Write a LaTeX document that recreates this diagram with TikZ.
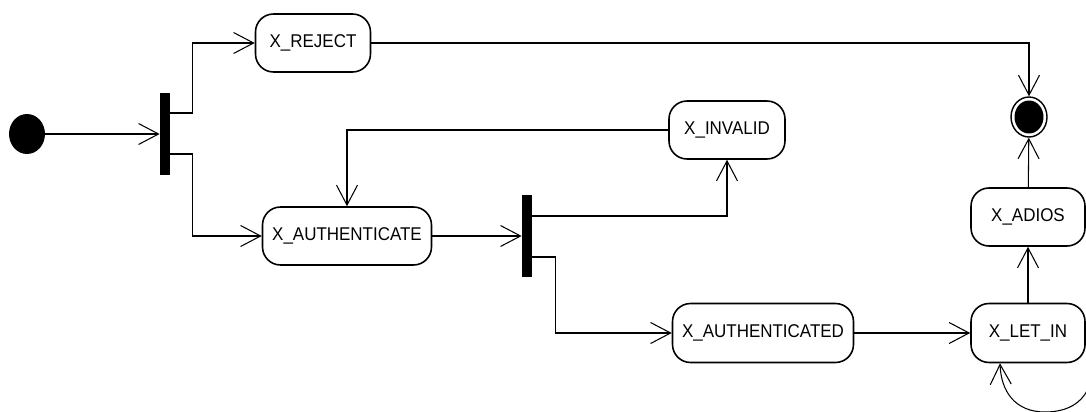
\documentclass[tikz,border=0pt]{standalone}
\usepackage{fontspec}
\setmainfont{Liberation Sans}[FakeStretch=0.92]
\usetikzlibrary{calc,shapes.geometric,arrows.meta}

\begin{document}
\begin{tikzpicture}[x=0.02cm,y=-0.02cm,
		font=\fontsize{10.5}{12}\selectfont,
		state/.style={draw,line width=0.9pt,rounded corners=0.36cm,minimum height=1.16cm,inner sep=0pt},
		bar/.style={fill=black,inner sep=0pt,minimum width=0.2cm,minimum height=1.64cm},
		blob/.style={ellipse,inner sep=0pt,minimum width=0.72cm,minimum height=0.8cm},
		flow/.style={line width=0.6pt,-{Straight Barb[length=0.4cm,width=0.42cm]}}]
		\useasboundingbox (0,0) rectangle (1086,412);
		% start, forks and end
		\node[blob,fill=black] (init) at (27,134) {};
		\node[bar] (fork1) at (165,134) {};
		\node[bar] (fork2) at (527,236) {};
		\node[blob,draw,line width=0.8pt] (final) at (1029,117) {};
		\node[blob,fill=black,minimum width=0.58cm,minimum height=0.66cm] (finaldot) at (final.center) {};
		% states
		\node[state,minimum width=2.3cm] (reject) at (313,43) {X\_REJECT};
		\node[state,minimum width=3.38cm] (auth) at (347,236) {X\_AUTHENTICATE};
		\node[state,minimum width=2.32cm] (invalid) at (727,130) {X\_INVALID};
		\node[state,minimum width=3.62cm,minimum height=1.18cm] (authd) at (763,333) {X\_AUTHENTICATED};
		\node[state,minimum width=2.28cm,minimum height=1.18cm] (letin) at (1028,333) {X\_LET\_IN};
		\node[state,minimum width=2.28cm] (adios) at (1028,217) {X\_ADIOS};
		% transitions
		\draw[flow] (init) -- (fork1.west);
		\draw[flow] ($(fork1.east)+(0,-21)$) -- ++(22,0) |- (reject.west);
		\draw[flow] ($(fork1.east)+(0,20)$) -- ++(22,0) |- (auth.west);
		\draw[flow] (reject.east) -| (final.north);
		\draw[flow] (auth.east) -- (fork2.west);
		\draw[flow] ($(fork2.east)+(0,-20)$) -| (invalid.south);
		\draw[flow] ($(fork2.east)+(0,21)$) -- ++(23,0) |- (authd.west);
		\draw[flow] (invalid.west) -| (auth.north);
		\draw[flow] (authd) -- (letin);
		\draw[flow] (letin) -- (adios);
		\draw[flow] (adios) -- (final);
		% self loop under X_LET_IN
		\draw[flow] ($(letin.east)+(0,12)$) .. controls (1100,375) and (1090,412) .. (1045,412)
			.. controls (1015,412) and ($(letin.south)+(-27,28)$) .. ($(letin.south)+(-28,0)$);
\end{tikzpicture}
\end{document}
